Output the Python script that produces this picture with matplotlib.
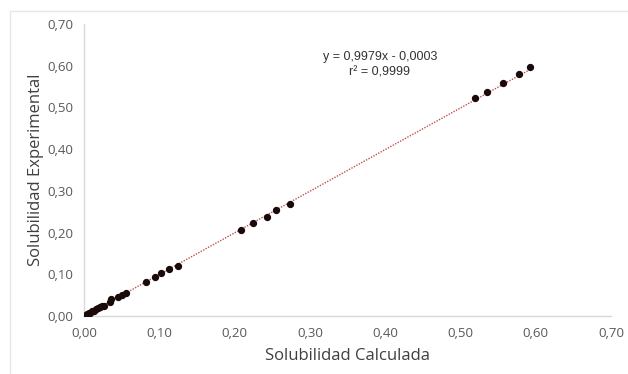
import matplotlib
matplotlib.use("Agg")
import matplotlib.pyplot as plt
from matplotlib.lines import Line2D
from matplotlib import font_manager
import numpy as np

x_calc = [0.000, 0.002, 0.004, 0.006, 0.008, 0.011, 0.013, 0.016, 0.019, 0.021, 0.024, 0.026,
          0.034, 0.036, 0.045, 0.051, 0.056, 0.083, 0.094, 0.102, 0.113, 0.125,
          0.208, 0.225, 0.243, 0.255, 0.273,
          0.519, 0.535, 0.556, 0.578, 0.593]
y_exp = [0.001, 0.002, 0.004, 0.006, 0.008, 0.011, 0.013, 0.017, 0.019, 0.022, 0.024, 0.025,
         0.034, 0.041, 0.046, 0.050, 0.054, 0.082, 0.094, 0.102, 0.112, 0.121,
         0.207, 0.223, 0.238, 0.254, 0.268,
         0.522, 0.538, 0.558, 0.581, 0.596]
slope, intercept = 0.9979, -0.0003
ticks = [0.0, 0.1, 0.2, 0.3, 0.4, 0.5, 0.6, 0.7]
tick_labels = ["0,00", "0,10", "0,20", "0,30", "0,40", "0,50", "0,60", "0,70"]

names = {f.name for f in font_manager.fontManager.ttflist}
eq_font = "Liberation Sans Narrow" if "Liberation Sans Narrow" in names else "Liberation Sans"
eq_size = 10.5 if eq_font == "Liberation Sans Narrow" else 9

fig = plt.figure(figsize=(6.28, 3.74), dpi=100)
ax = fig.add_axes([84/628, 1-316/374, (611-84)/628, (316-24)/374])

xs = np.array([0.0, max(x_calc)])
ax.plot(xs, slope*xs + intercept, linestyle=(0, (1, 1)), color="#c0504d", lw=1.0, zorder=2)
ax.scatter(x_calc, y_exp, s=18, color="#1a0a0a", zorder=3)

ax.set_xlim(0, 0.7)
ax.set_ylim(0, 0.7)
ax.set_xticks(ticks)
ax.set_xticklabels(tick_labels)
ax.set_yticks(ticks)
ax.set_yticklabels(tick_labels)
ax.tick_params(length=0, labelsize=9.5, colors="#595959", pad=8)
for lab in ax.get_xticklabels() + ax.get_yticklabels():
    lab.set_family("Open Sans")
for s in ["top", "right"]:
    ax.spines[s].set_visible(False)
for s in ["left", "bottom"]:
    ax.spines[s].set_color("#d9d9d9")
    ax.spines[s].set_linewidth(1.0)

ax.set_xlabel("Solubilidad Calculada", fontsize=12, family="Open Sans", color="#404040", labelpad=6)
ax.set_ylabel("Solubilidad Experimental", fontsize=12, family="Open Sans", color="#404040", labelpad=2)

ax.text(0.393, 0.621, "y = 0,9979x - 0,0003", ha="center", va="center",
        fontsize=eq_size, family=eq_font, color="#333333")
ax.text(0.393, 0.583, "r² = 0,9999", ha="center", va="center",
        fontsize=eq_size, family=eq_font, color="#333333")

fig.add_artist(Line2D([10/628, 1], [1-11/374, 1-11/374], color="#e6e6e6", lw=1, transform=fig.transFigure))
fig.add_artist(Line2D([10/628, 10/628], [0, 1-11/374], color="#e6e6e6", lw=1, transform=fig.transFigure))

fig.savefig("out.png", dpi=100)
